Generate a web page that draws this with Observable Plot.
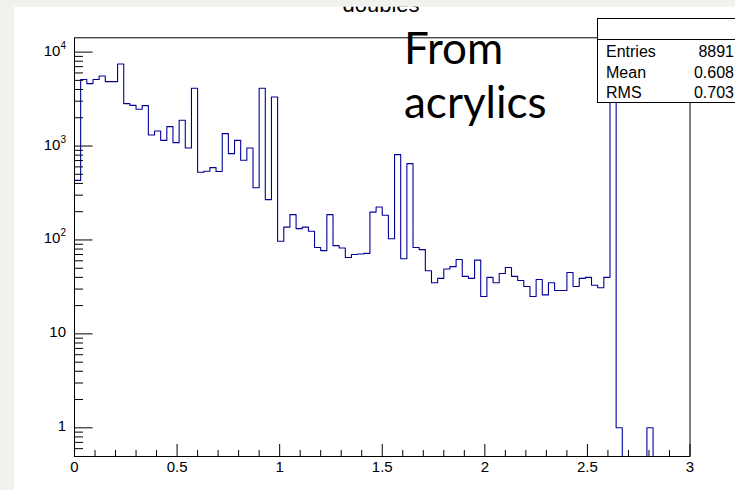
<!DOCTYPE html>
<html><head><meta charset="utf-8">
<script src="https://cdn.jsdelivr.net/npm/d3@7"></script>
<script src="https://cdn.jsdelivr.net/npm/@observablehq/plot@0.6"></script>
<style>html,body{margin:0;padding:0;background:#fff;} svg{display:block;}</style>
</head><body><div id="chart"></div>
<script>
// ---- data ----
const xMin = 0, xMax = 3, nBins = 100;
const counts = [
  431, 5100, 4620, 5100, 5570, 4850, 4850, 7470, 2830, 2710,
  2460, 2690, 1310, 1445, 1150, 1610, 1087, 1880, 953, 4120,
  525, 538, 589, 535, 1356, 830, 1150, 705, 953, 360,
  4120, 269, 3325, 97, 137, 186, 132, 137, 124, 83,
  77, 186, 87, 82, 65, 70, 71, 72, 198, 224,
  183, 103, 810, 63, 649, 83, 79, 47, 35, 39,
  49, 52, 62, 41, 39, 61, 25, 40, 35, 44,
  51, 41, 37, 32, 25, 38, 26, 35, 29, 29,
  45, 32, 39, 40, 33, 31, 40, 9000, 1, 0,
  0, 0, 0, 1, 0, 0, 0, 0, 0, 0
];
const yRange = [0.495, 14200];
const xMajorTicks = [0, 0.5, 1, 1.5, 2, 2.5, 3];
const xMinorTicks = [0.1,0.2,0.3,0.4,0.6,0.7,0.8,0.9,1.1,1.2,1.3,1.4,1.6,1.7,1.8,1.9,2.1,2.2,2.3,2.4,2.6,2.7,2.8,2.9];
const xTickLabels = ["0", "0.5", "1", "1.5", "2", "2.5", "3"];
const yMajorTicks = [1, 10, 100, 1000, 10000];
const yTickBase = ["1", "10", "10", "10", "10"];
const yTickExp = ["", "", "2", "3", "4"];
const yMinorTicks = [0.6,0.7,0.8,0.9,2,3,4,5,6,7,8,9,20,30,40,50,60,70,80,90,200,300,400,500,600,700,800,900,2000,3000,4000,5000,6000,7000,8000,9000];
const statsNames = ["Entries", "Mean", "RMS"];
const statsValues = ["8891", "0.608", "0.703"];
const titleText = "doubles";
const noteLines = ["From", "acrylics"];

// ---- layout ----
const W = 735, H = 490;
const mL = 74, mR = 45.5, mT = 37.3, mB = 34;
const fw = W - mL - mR, fh = H - mT - mB;
const lineColor = "#000099";
const font = "'Liberation Sans', Arial, Helvetica, sans-serif";

const binW = (xMax - xMin) / nBins;
const pts = counts.map((c, i) => ({x: xMin + i * binW, y: c > 0 ? c : yRange[0]}));
pts.push({x: xMax, y: pts[pts.length - 1].y});

const plot = Plot.plot({
  width: W, height: H,
  marginLeft: mL, marginRight: mR, marginTop: mT, marginBottom: mB,
  style: {background: "white", fontFamily: font, fontSize: "15px", color: "black"},
  x: {domain: [xMin, xMax]},
  y: {type: "log", domain: yRange, axis: null},
  marks: [
    Plot.line(pts, {x: "x", y: "y", curve: "step-after", stroke: lineColor, strokeWidth: 1.1, clip: true}),
    Plot.ruleX(xMajorTicks, {x: d => d, insetTop: fh - 12, stroke: "black"}),
    Plot.ruleX(xMinorTicks, {x: d => d, insetTop: fh - 6, stroke: "black"}),
    Plot.ruleY(yMajorTicks, {y: d => d, insetRight: fw - 18.5, stroke: "black"}),
    Plot.ruleY(yMinorTicks, {y: d => d, insetRight: fw - 9, stroke: "black"}),
    Plot.axisX(xMajorTicks, {tickSize: 0, tickPadding: 5, tickFormat: (d, i) => xTickLabels[i], label: null, fontSize: 15}),
    Plot.frame({stroke: "black"})
  ]
});

const svg = d3.select(plot);
const ys = plot.scale("y");
const yScale = v => {
  const [d0, d1] = ys.domain, [r0, r1] = ys.range;
  return r0 + (Math.log10(v) - Math.log10(d0)) / (Math.log10(d1) - Math.log10(d0)) * (r1 - r0);
};
// y tick labels with superscripts
const yl = svg.append("g").attr("font-family", font).attr("fill", "black");
yMajorTicks.forEach((v, i) => {
  const t = yl.append("text").attr("x", mL - 8).attr("y", yScale(v)).attr("text-anchor", "end")
    .attr("dominant-baseline", "middle").attr("font-size", 15);
  t.append("tspan").text(yTickBase[i]);
  if (yTickExp[i]) t.append("tspan").attr("dy", -6).attr("font-size", 10).text(yTickExp[i]);
});

// title (partially hidden at top, as in the original screenshot)
svg.append("text").attr("x", 381).attr("y", 12).attr("text-anchor", "middle")
  .attr("font-family", font).attr("font-size", 22).attr("fill", "black").text(titleText);

// annotation
noteLines.forEach((s, i) => {
  svg.append("text").attr("x", 404).attr("y", 64 + i * 54).attr("text-anchor", "start")
    .attr("font-family", "Lato, 'Open Sans', sans-serif").attr("font-size", 44).attr("fill", "black").text(s);
});

// stats box
const sb = svg.append("g");
sb.append("rect").attr("x", 597.5).attr("y", 18.5).attr("width", 200).attr("height", 84)
  .attr("fill", "white").attr("stroke", "black").attr("stroke-width", 1);
sb.append("line").attr("x1", 597.5).attr("x2", 800).attr("y1", 39.5).attr("y2", 39.5).attr("stroke", "black");
statsNames.forEach((n, i) => {
  const yy = 57 + i * 20.5;
  sb.append("text").attr("x", 606).attr("y", yy).attr("text-anchor", "start").attr("font-family", font).attr("font-size", 16).attr("fill", "black").text(n);
  sb.append("text").attr("x", 734).attr("y", yy).attr("text-anchor", "end").attr("font-family", font).attr("font-size", 16).attr("fill", "black").text(statsValues[i]);
});

// page margins (grey)
svg.append("rect").attr("x", 0).attr("y", 0).attr("width", W).attr("height", 6.7).attr("fill", "#f2f1ed");
svg.append("rect").attr("x", 0).attr("y", 0).attr("width", 14).attr("height", H).attr("fill", "#f2f1ed");

document.getElementById("chart").appendChild(plot);
</script></body></html>
